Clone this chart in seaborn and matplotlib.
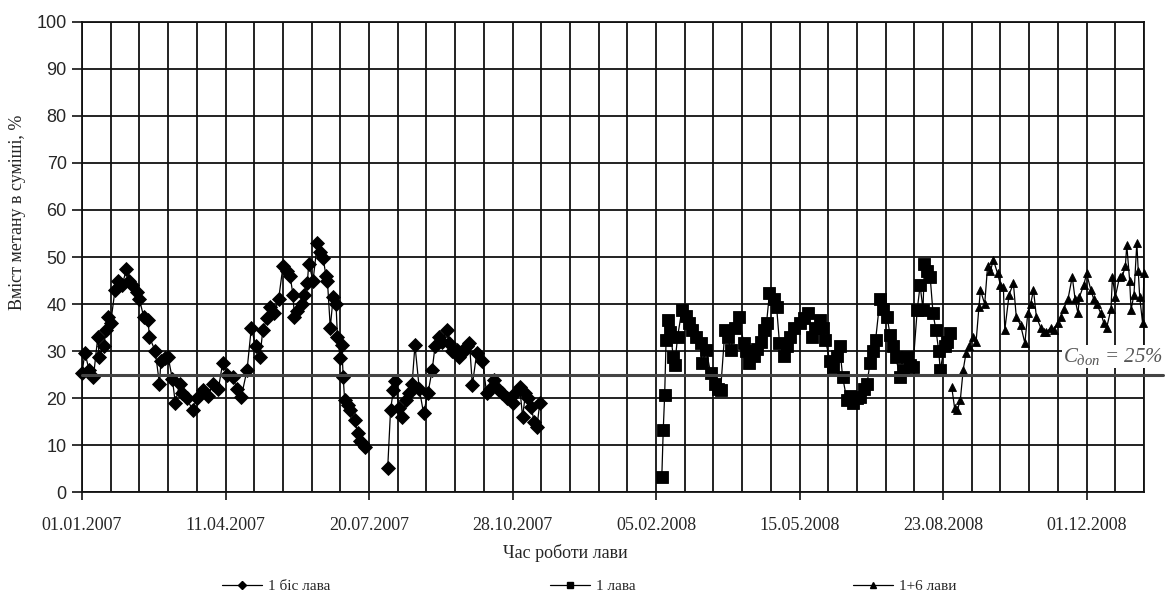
#!/usr/bin/env python3

import numpy as np
import pandas as pd
import seaborn as sns
from matplotlib import pyplot as plt
from matplotlib.ticker import MultipleLocator, FixedLocator, FixedFormatter


x_title = "Час роботи лави"
y_title = "Вміст метану в суміші, %"
limit_value = 25
limit_label = r"$C_{доп}$ = 25%"

tick_days = [0, 100, 200, 300, 400, 500, 600, 700]
tick_labels = ["01.01.2007", "11.04.2007", "20.07.2007", "28.10.2007",
               "05.02.2008", "15.05.2008", "23.08.2008", "01.12.2008"]

# day offsets from 01.01.2007 and methane content, %
s1_name = "1 біс лава"
s1_days = [0, 2, 5, 8, 11, 12, 15, 17, 18, 20, 23, 25, 28, 31, 33, 35, 38, 40,
           43, 46, 47, 51, 54, 55, 58, 60, 63, 65, 68, 70, 73, 77, 80, 84, 88,
           91, 95, 98, 101, 105, 108, 111, 115, 118, 121, 124, 126, 129, 131,
           134, 137, 140, 143, 145, 147, 148, 150, 153, 155, 157, 158, 161,
           164, 166, 168, 170, 171, 173, 175, 177, 178, 180, 181, 182, 183,
           185, 187, 190, 192, 194, 195, 197,
           213, 215, 217, 218, 221, 223, 226, 228, 230, 232, 235, 238, 241,
           244, 246, 249, 251, 254, 256, 258, 261, 263, 266, 268, 270, 272,
           275, 279, 282, 284, 287, 290, 293, 296, 300, 302, 305, 307, 309,
           311, 313, 315, 317, 319]
s1_vals = [25.3, 29.6, 26, 24.6, 33, 28.7, 31, 34.5, 37.3, 36, 43, 45, 44,
           47.5, 45, 44, 42.5, 41, 37.3, 36.6, 33, 30, 23, 28, 28.5, 28.8, 24,
           19, 23, 21, 20, 17.5, 20, 21.7, 20.5, 23, 22, 27.4, 25, 24.5, 22,
           20.3, 26, 35, 31, 28.8, 34.5, 37, 39.4, 38, 41, 48, 47, 46, 42,
           37.3, 38.5, 40, 42, 44.4, 48.6, 45, 53, 51, 49.8, 46, 45, 35, 41.5,
           40, 33, 28.5, 31.3, 24.5, 19.6, 18.5, 17.5, 15.4, 12.6, 11, 10.5,
           9.7,
           5.1, 17.5, 21.8, 23.6, 18, 16, 19.6, 21, 23, 31.3, 22, 16.8, 21,
           26, 31, 33, 32, 34.5, 31.7, 30, 30.2, 28.8, 30, 31, 31.7, 22.8,
           29.5, 28, 21, 22, 23.9, 22, 21, 20, 19, 21, 22.4, 16, 21, 20, 18.2,
           15, 13.9, 19]

s2_name = "1 лава"
s2_days = [404, 405, 406, 407, 408, 410, 412, 413, 415, 418, 421, 423, 425,
           428, 431, 432, 435, 438, 441, 443, 445, 448, 450, 452, 455, 458,
           461, 463, 465, 468, 470, 473, 475, 477, 479, 482, 484, 486, 489,
           491, 493, 496, 500, 503, 506, 509, 511, 514, 516, 518, 521, 523,
           526, 528, 530, 533, 535, 537, 540, 542, 545, 547, 549, 551, 553,
           556, 558, 561, 563, 565, 567, 570, 572, 575, 577, 579, 582, 584,
           586, 587, 589, 591, 593, 595, 597, 598, 601, 603, 605]
s2_vals = [3.2, 13.2, 20.7, 32.4, 36.6, 34, 28.8, 27, 33, 38.8, 37.5, 36,
           34.5, 33, 31.7, 27.4, 30.2, 25.3, 23, 22, 21.8, 34.5, 33, 30.2, 35,
           37.3, 31.7, 30, 27.4, 29, 30.5, 32, 34.5, 36, 42.3, 41, 39.4, 31.7,
           29, 31, 33, 35, 36, 37, 38, 33, 35, 36.6, 35, 32.4, 28, 26.7, 29,
           31, 24.5, 19.6, 20.5, 19, 20, 20.3, 22, 23, 27.4, 30, 32.4, 41, 39,
           37.3, 33.5, 31, 28.8, 24.5, 26, 28.8, 27, 26.7, 38.8, 44, 38.8,
           48.6, 47, 45.8, 38, 34.5, 30, 26, 31, 32, 33.8]

s3_name = "1+6 лави"
s3_days = [606, 608, 610, 612, 614, 616, 618, 621, 623, 625, 626, 629, 631,
           633, 635, 638, 640, 642, 643, 646, 649, 651, 654, 657, 659, 661,
           663, 665, 668, 670, 672, 675, 677, 680, 682, 684, 687, 690, 692,
           694, 695, 698, 700, 703, 705, 707, 710, 712, 714, 717, 718, 720,
           723, 725, 727, 728, 730, 731, 733, 735, 736, 737, 739, 740]
s3_vals = [22.4, 18, 17.5, 19.6, 26, 29.6, 31, 33, 32, 39.4, 43, 40, 48, 47,
           49.4, 46.5, 44, 43.7, 34.5, 42, 44.4, 37.3, 35.5, 31.7, 38, 40, 43,
           37.3, 35, 34, 34, 35, 34.5, 36, 37.3, 39, 41, 45.8, 41, 38, 41.5,
           44, 46.5, 43, 41, 40, 38, 36, 35, 39, 45.8, 41.5, 45.8, 46, 48,
           52.5, 45, 38.8, 42, 53, 47, 41.5, 36, 46.5]


def make_frame(days, vals):
    df = pd.DataFrame({"day": days, "val": vals})
    # a long pause in measurements breaks the line
    df["part"] = (df["day"].diff() > 12).cumsum()
    return df


def draw_series(ax, days, vals, marker, size):
    df = make_frame(days, vals)
    sns.lineplot(data=df, x="day", y="val", units="part", estimator=None,
                 sort=False, color="black", linewidth=0.9, marker=marker,
                 markersize=size, markeredgewidth=0.6, markeredgecolor="black",
                 ax=ax, legend=False, zorder=3, clip_on=False)


def main():
    sns.set_theme(style="white")
    plt.rcParams["font.family"] = ["Liberation Serif", "DejaVu Serif"]
    plt.rcParams["mathtext.fontset"] = "custom"
    plt.rcParams["mathtext.it"] = "Liberation Serif:italic"
    plt.rcParams["mathtext.rm"] = "Liberation Serif:italic"

    fig = plt.figure(figsize=(11.66, 6.01), dpi=100)
    ax = fig.add_axes([82 / 1166, 1 - 492.3 / 601, 1062 / 1166, 470.6 / 601])

    draw_series(ax, s1_days, s1_vals, "D", 7.5)
    draw_series(ax, s2_days, s2_vals, "s", 8)
    draw_series(ax, s3_days, s3_vals, "^", 6)

    ax.set_xlim(0, 740)
    ax.set_ylim(0, 100)
    ax.xaxis.set_major_locator(FixedLocator(tick_days))
    ax.xaxis.set_major_formatter(FixedFormatter(tick_labels))
    ax.xaxis.set_minor_locator(MultipleLocator(20))
    ax.yaxis.set_major_locator(MultipleLocator(10))

    ax.grid(True, which="both", axis="x", color="#111111", linewidth=1.3)
    ax.grid(True, which="major", axis="y", color="#111111", linewidth=1.3)
    ax.set_axisbelow(True)
    for side in ["left", "bottom", "right", "top"]:
        ax.spines[side].set_color("#111111")
        ax.spines[side].set_linewidth(1.3)

    ax.tick_params(axis="y", which="major", left=True, length=7, width=1.2,
                   color="#111111", pad=4, labelsize=13)
    ax.tick_params(axis="x", which="major", bottom=True, length=6, width=1.2,
                   color="#111111", pad=12, labelsize=13)
    ax.tick_params(axis="x", which="minor", bottom=False, length=0)
    for lbl in ax.get_yticklabels():
        lbl.set_fontfamily(["Liberation Sans", "DejaVu Sans"])

    ax.set_xlabel("")
    ax.set_ylabel("")
    fig.text(0.485, 1 - 553 / 601, x_title, ha="center", va="center",
             fontsize=13)
    fig.text(18 / 1166, 1 - 212 / 601, y_title, ha="center", va="center",
             rotation=90, fontsize=13)

    # permissible methane limit
    right_edge = (1163 - 82) / 1062
    ax.axhline(limit_value, xmin=0, xmax=right_edge, color="#444444",
               linewidth=2.2, clip_on=False, zorder=4)
    ax.text(right_edge, limit_value + 1.6, limit_label,
            transform=ax.get_yaxis_transform(), ha="right", va="bottom",
            fontsize=15, color="#555555", style="italic", zorder=5,
            bbox=dict(facecolor="white", edgecolor="none", pad=0.5))

    entries = [(s1_name, "D", 4, 222), (s2_name, "s", 5, 550),
               (s3_name, "^", 4, 853)]
    for name, marker, size, xpix in entries:
        handle = plt.Line2D([], [], color="black", linewidth=0.9,
                            marker=marker, markersize=size)
        fig.legend([handle], [name], loc="center left",
                   bbox_to_anchor=(xpix / 1166, 1 - 586 / 601), frameon=False,
                   fontsize=11, handlelength=2.6, handletextpad=0.4,
                   borderpad=0, borderaxespad=0)

    fig.savefig("out.png", dpi=100)


if __name__ == "__main__":
    main()
